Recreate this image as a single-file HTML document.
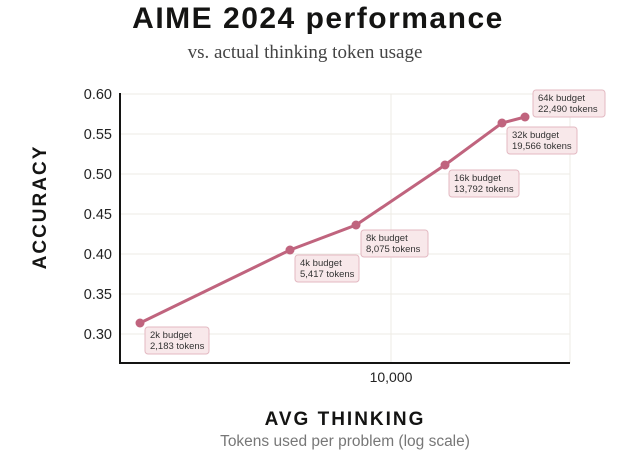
<!DOCTYPE html>
<html><head><style>
body{margin:0;background:#fff;width:637px;height:454px;overflow:hidden}
</style></head><body>
<svg width="637" height="454" xmlns="http://www.w3.org/2000/svg" font-family="Liberation Sans, sans-serif">
<text x="318" y="28" text-anchor="middle" font-size="30" font-weight="bold" letter-spacing="1.5" fill="#141413">AIME 2024 performance</text>
<text x="305" y="58" text-anchor="middle" font-size="19" fill="#444" font-family="Liberation Serif, serif">vs. actual thinking token usage</text>
<g stroke="#eeebe4" stroke-width="1">
<line x1="120" y1="94" x2="570" y2="94"/><line x1="120" y1="134" x2="570" y2="134"/>
<line x1="120" y1="174" x2="570" y2="174"/><line x1="120" y1="214" x2="570" y2="214"/>
<line x1="120" y1="254" x2="570" y2="254"/><line x1="120" y1="294" x2="570" y2="294"/>
<line x1="120" y1="334" x2="570" y2="334"/>
<line x1="391" y1="94" x2="391" y2="363"/><line x1="570" y1="94" x2="570" y2="363"/>
</g>
<line x1="120" y1="93" x2="120" y2="364" stroke="#141413" stroke-width="2"/>
<line x1="119" y1="363" x2="570" y2="363" stroke="#141413" stroke-width="2"/>
<g font-size="14.5" fill="#222" text-anchor="end">
<text x="112" y="99">0.60</text><text x="112" y="139">0.55</text><text x="112" y="179">0.50</text>
<text x="112" y="219">0.45</text><text x="112" y="259">0.40</text><text x="112" y="299">0.35</text>
<text x="112" y="339">0.30</text></g>
<text x="391" y="382" text-anchor="middle" font-size="14" fill="#222">10,000</text>
<text transform="translate(46,207) rotate(-90)" text-anchor="middle" font-size="19" font-weight="bold" letter-spacing="2" fill="#141413">ACCURACY</text>
<text x="345" y="425" text-anchor="middle" font-size="19" font-weight="bold" letter-spacing="2" fill="#141413">AVG THINKING</text>
<text x="345" y="446" text-anchor="middle" font-size="15.5" fill="#777">Tokens used per problem (log scale)</text>
<polyline points="140,323 290,250 356,225 445,165 502,123 525,117" fill="none" stroke="#c0647e" stroke-width="3"/>
<g fill="#c0647e"><circle cx="140" cy="323" r="4.5"/><circle cx="290" cy="250" r="4.5"/><circle cx="356" cy="225" r="4.5"/><circle cx="445" cy="165" r="4.5"/><circle cx="502" cy="123" r="4.5"/><circle cx="525" cy="117" r="4.5"/></g>
<g font-size="9.5" fill="#333">
<rect x="145" y="327" width="64" height="27" rx="3" fill="#f8e8ea" stroke="#e3b9c2"/>
<text x="150" y="338">2k budget</text><text x="150" y="349">2,183 tokens</text>
<rect x="295" y="255" width="64" height="27" rx="3" fill="#f8e8ea" stroke="#e3b9c2"/>
<text x="300" y="266">4k budget</text><text x="300" y="277">5,417 tokens</text>
<rect x="361" y="230" width="67" height="27" rx="3" fill="#f8e8ea" stroke="#e3b9c2"/>
<text x="366" y="241">8k budget</text><text x="366" y="252">8,075 tokens</text>
<rect x="449" y="170" width="70" height="27" rx="3" fill="#f8e8ea" stroke="#e3b9c2"/>
<text x="454" y="181">16k budget</text><text x="454" y="192">13,792 tokens</text>
<rect x="507" y="127" width="70" height="27" rx="3" fill="#f8e8ea" stroke="#e3b9c2"/>
<text x="512" y="138">32k budget</text><text x="512" y="149">19,566 tokens</text>
<rect x="533" y="90" width="72" height="27" rx="3" fill="#f8e8ea" stroke="#e3b9c2"/>
<text x="538" y="101">64k budget</text><text x="538" y="112">22,490 tokens</text>
</g>
</svg>
</body></html>
